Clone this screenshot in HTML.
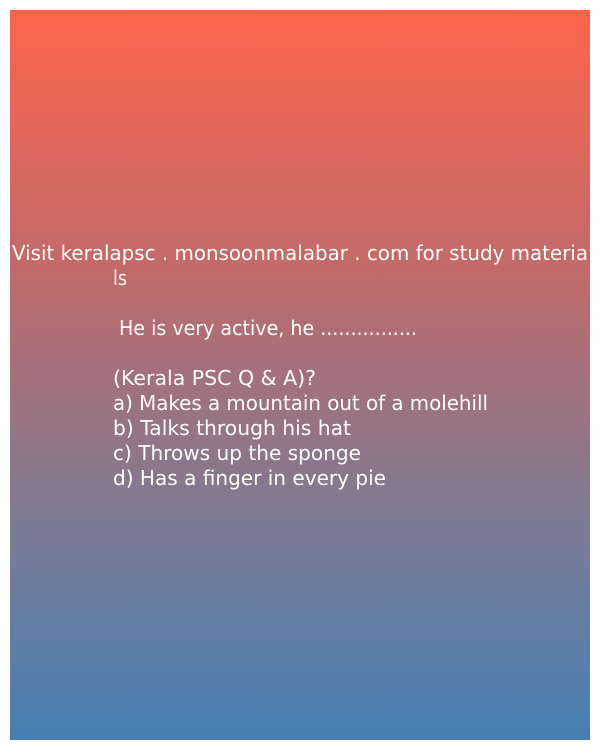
<!DOCTYPE html>
<html><head><meta charset="utf-8"><style>
html,body{margin:0;padding:0;background:#fff;}
#card{position:absolute;left:10px;top:10px;width:580px;height:730px;background:linear-gradient(to bottom,#fe644a,#c26a6a 35%,#7c7a93 70%,#4680b4);}
svg{position:absolute;left:0;top:0;}
text{font-family:"DejaVu Sans","Liberation Sans",sans-serif;font-size:20px;fill:#fff;}
</style></head><body>
<div id="card"></div>
<svg width="600" height="750">
<text x="12" y="260" textLength="576" lengthAdjust="spacingAndGlyphs">Visit keralapsc . monsoonmalabar . com for study materia</text>
<text x="113" y="285" textLength="14" lengthAdjust="spacingAndGlyphs">ls</text>
<text x="119" y="335" textLength="298" lengthAdjust="spacingAndGlyphs">He is very active, he ................</text>
<text x="113" y="385" textLength="203" lengthAdjust="spacingAndGlyphs">(Kerala PSC Q &amp; A)?</text>
<text x="113" y="410" textLength="375" lengthAdjust="spacingAndGlyphs">a) Makes a mountain out of a molehill</text>
<text x="113" y="435" textLength="238" lengthAdjust="spacingAndGlyphs">b) Talks through his hat</text>
<text x="113" y="460" textLength="248" lengthAdjust="spacingAndGlyphs">c) Throws up the sponge</text>
<text x="113" y="485" textLength="273" lengthAdjust="spacingAndGlyphs">d) Has a finger in every pie</text>
</svg>
</body></html>
